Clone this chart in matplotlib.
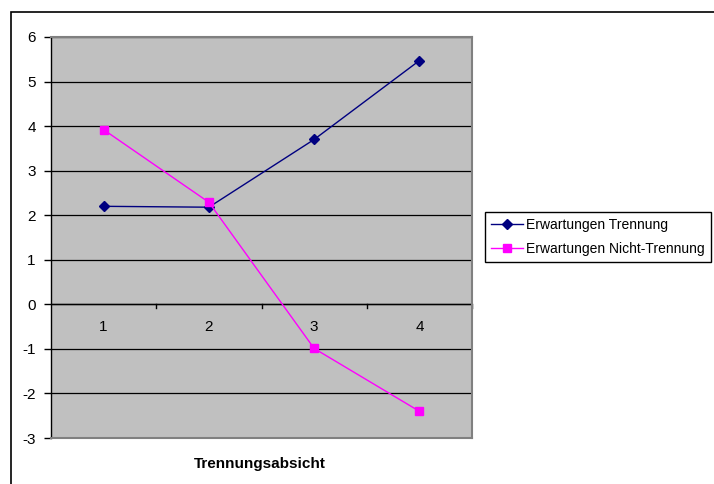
import numpy as np
import matplotlib.pyplot as plt
from matplotlib.patches import Rectangle

# Datos
categorias = [1, 2, 3, 4]
trennung = [2.20, 2.18, 3.70, 5.47]
nicht_trennung = [3.92, 2.29, -0.99, -2.40]

plt.rcParams['font.family'] = ['Liberation Sans', 'DejaVu Sans']
plt.rcParams['font.size'] = 11
plt.rcParams['axes.unicode_minus'] = False

W, H = 714, 484
fig = plt.figure(figsize=(W / 100, H / 100), dpi=100)

# Marco exterior del area del grafico
fig.patches.append(Rectangle((11 / W, -0.1), 1.1, 1 - 12 / H + 0.1, transform=fig.transFigure,
                             fill=False, edgecolor='black', linewidth=1.2))

# Area de trazado
x0, x1 = 51, 472
y0, y1 = 37, 438
ax = fig.add_axes([x0 / W, 1 - y1 / H, (x1 - x0) / W, (y1 - y0) / H])
ax.set_facecolor('#c0c0c0')
ax.set_xlim(0.5, 4.5)
ax.set_ylim(-3, 6)

for y in range(-3, 7):
    ax.axhline(y, color='black', linewidth=0.9, zorder=1)

ax.plot(categorias, trennung, color='#000080', marker='D', markersize=5,
        linewidth=1, label='Erwartungen Trennung', zorder=3)
ax.plot(categorias, nicht_trennung, color='#ff00ff', marker='s', markersize=6,
        linewidth=1, label='Erwartungen Nicht-Trennung', zorder=3)

# Bordes
for s in ['top', 'right', 'bottom']:
    ax.spines[s].set_color('#808080')
    ax.spines[s].set_linewidth(1.5)
ax.spines['left'].set_color('black')
ax.spines['left'].set_linewidth(1)

ax.set_yticks(range(-3, 7))
ax.tick_params(axis='y', direction='out', length=5, width=1, pad=6, labelsize=11)
ax.set_xticks([])

# Eje x cruzando en 0, con marcas entre categorias
ax.axhline(0, color='black', linewidth=1, zorder=2)
for b in [1.5, 2.5, 3.5, 4.5]:
    ax.plot([b, b], [0, -0.08], color='black', linewidth=1, zorder=2, clip_on=False)
for c in categorias:
    ax.text(c, -0.5, str(c), ha='center', va='center', fontsize=11)

fig.text(260 / W, 1 - 464 / H, 'Trennungsabsicht', ha='center', va='center',
         fontsize=11, fontweight='bold')

leg = fig.legend(loc='upper left', bbox_to_anchor=(485 / W, 1 - 212 / H),
                 frameon=True, fancybox=False, edgecolor='black', framealpha=1,
                 fontsize=10, handlelength=2.3, handletextpad=0.2, borderpad=0.45,
                 labelspacing=0.7, borderaxespad=0)
leg.get_frame().set_linewidth(1)

fig.savefig('out.png', dpi=100)
